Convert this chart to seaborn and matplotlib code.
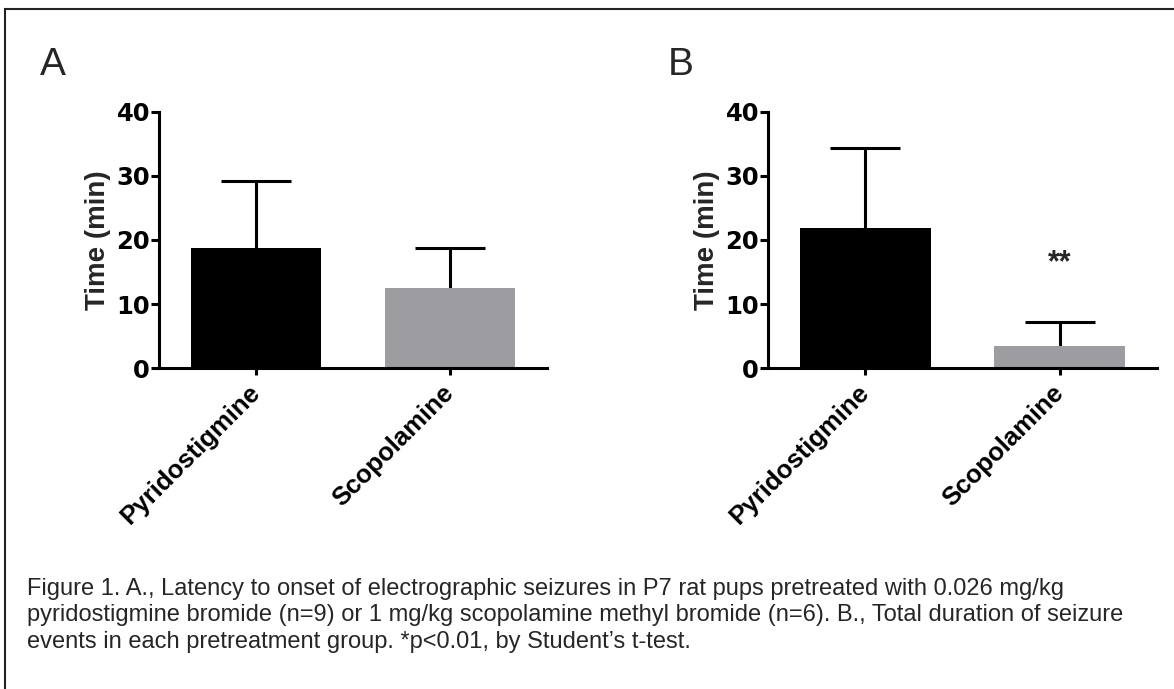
import matplotlib
matplotlib.use("Agg")
import matplotlib.pyplot as plt
import seaborn as sns
import pandas as pd
import numpy as np
from matplotlib.patches import Rectangle

# ---- data ----
categories = ["Pyridostigmine", "Scopolamine"]
latency_mean = [18.7, 12.5]
latency_sem = [10.5, 6.2]
duration_mean = [21.8, 3.4]
duration_sem = [12.5, 3.8]
yticks = [0, 10, 20, 30, 40]
ylabel = "Time (min)"
panel_labels = ["A", "B"]
signif_label = "**"
signif_y = 16.4
caption_lines = [
    "Figure 1. A., Latency to onset of electrographic seizures in P7 rat pups pretreated with 0.026 mg/kg",
    "pyridostigmine bromide (n=9) or 1 mg/kg scopolamine methyl bromide (n=6). B., Total duration of seizure",
    "events in each pretreatment group. *p<0.01, by Student\u2019s t-test.",
]

sns.set_theme(style="white")
plt.rcParams['font.family'] = ['Liberation Sans', 'DejaVu Sans']

colors = ["#000000", "#9d9da1"]
LW = 2.2

fig = plt.figure(figsize=(11.74, 6.89), dpi=100)
W, H = 1174, 689

def px_axes(x0, x1, ytop, ybot):
    return fig.add_axes([x0 / W, 1 - ybot / H, (x1 - x0) / W, (ybot - ytop) / H])

axA = px_axes(159, 547, 112, 368)
axB = px_axes(768, 1157, 112, 368)

for ax, means, sems in [(axA, latency_mean, latency_sem), (axB, duration_mean, duration_sem)]:
    df = pd.DataFrame({"cat": categories, "val": means})
    sns.barplot(data=df, x="cat", y="val", hue="cat", palette=colors, width=0.675,
                errorbar=None, legend=False, ax=ax, linewidth=0, saturation=1)
    _, caps, _ = ax.errorbar(x=[0, 1], y=means, yerr=[[0, 0], sems], fmt="none", ecolor="black",
                             elinewidth=LW, capsize=25, capthick=LW, zorder=0)
    for c in caps:
        if np.allclose(c.get_ydata(), means):
            c.set_visible(False)
    ax.set_xlim(-0.5, 1.5)
    ax.set_ylim(0, 40)
    ax.set_yticks(yticks)
    ax.set_yticklabels([str(t) for t in yticks], family="DejaVu Sans", fontweight="bold", fontsize=17.5)
    ax.set_xticks([0, 1])
    ax.set_xticklabels(categories, rotation=45, ha="right", rotation_mode="anchor",
                       fontweight="bold", fontsize=18.5, va="center")
    ax.set_xlabel("")
    ax.set_ylabel(ylabel, fontweight="bold", fontsize=20, labelpad=4)
    for s in ["top", "right"]:
        ax.spines[s].set_visible(False)
    for s in ["left", "bottom"]:
        ax.spines[s].set_linewidth(LW)
        ax.spines[s].set_color("black")
    ax.tick_params(axis="y", direction="out", length=5.5, width=LW, pad=1, left=True, colors="black")
    ax.tick_params(axis="x", direction="out", length=5, width=LW, pad=10, bottom=True, colors="black")
    ax.set_facecolor("none")

axB.text(1, signif_y, signif_label, ha="center", va="center", fontsize=22, fontweight="bold")

fig.text(40 / W, 1 - 75 / H, panel_labels[0], fontsize=28, ha="left", va="baseline")
fig.text(668 / W, 1 - 75 / H, panel_labels[1], fontsize=28, ha="left", va="baseline")

for i, line in enumerate(caption_lines):
    fig.text(27 / W, 1 - (595 + 26.5 * i) / H, line, fontsize=17, ha="left", va="baseline")

fig.add_artist(Rectangle((5 / W, -0.1), 1.2, (1 - 9 / H) + 0.1, transform=fig.transFigure,
                         fill=False, edgecolor="#222222", linewidth=1.5, clip_on=False))

fig.savefig("out.png", dpi=100)
